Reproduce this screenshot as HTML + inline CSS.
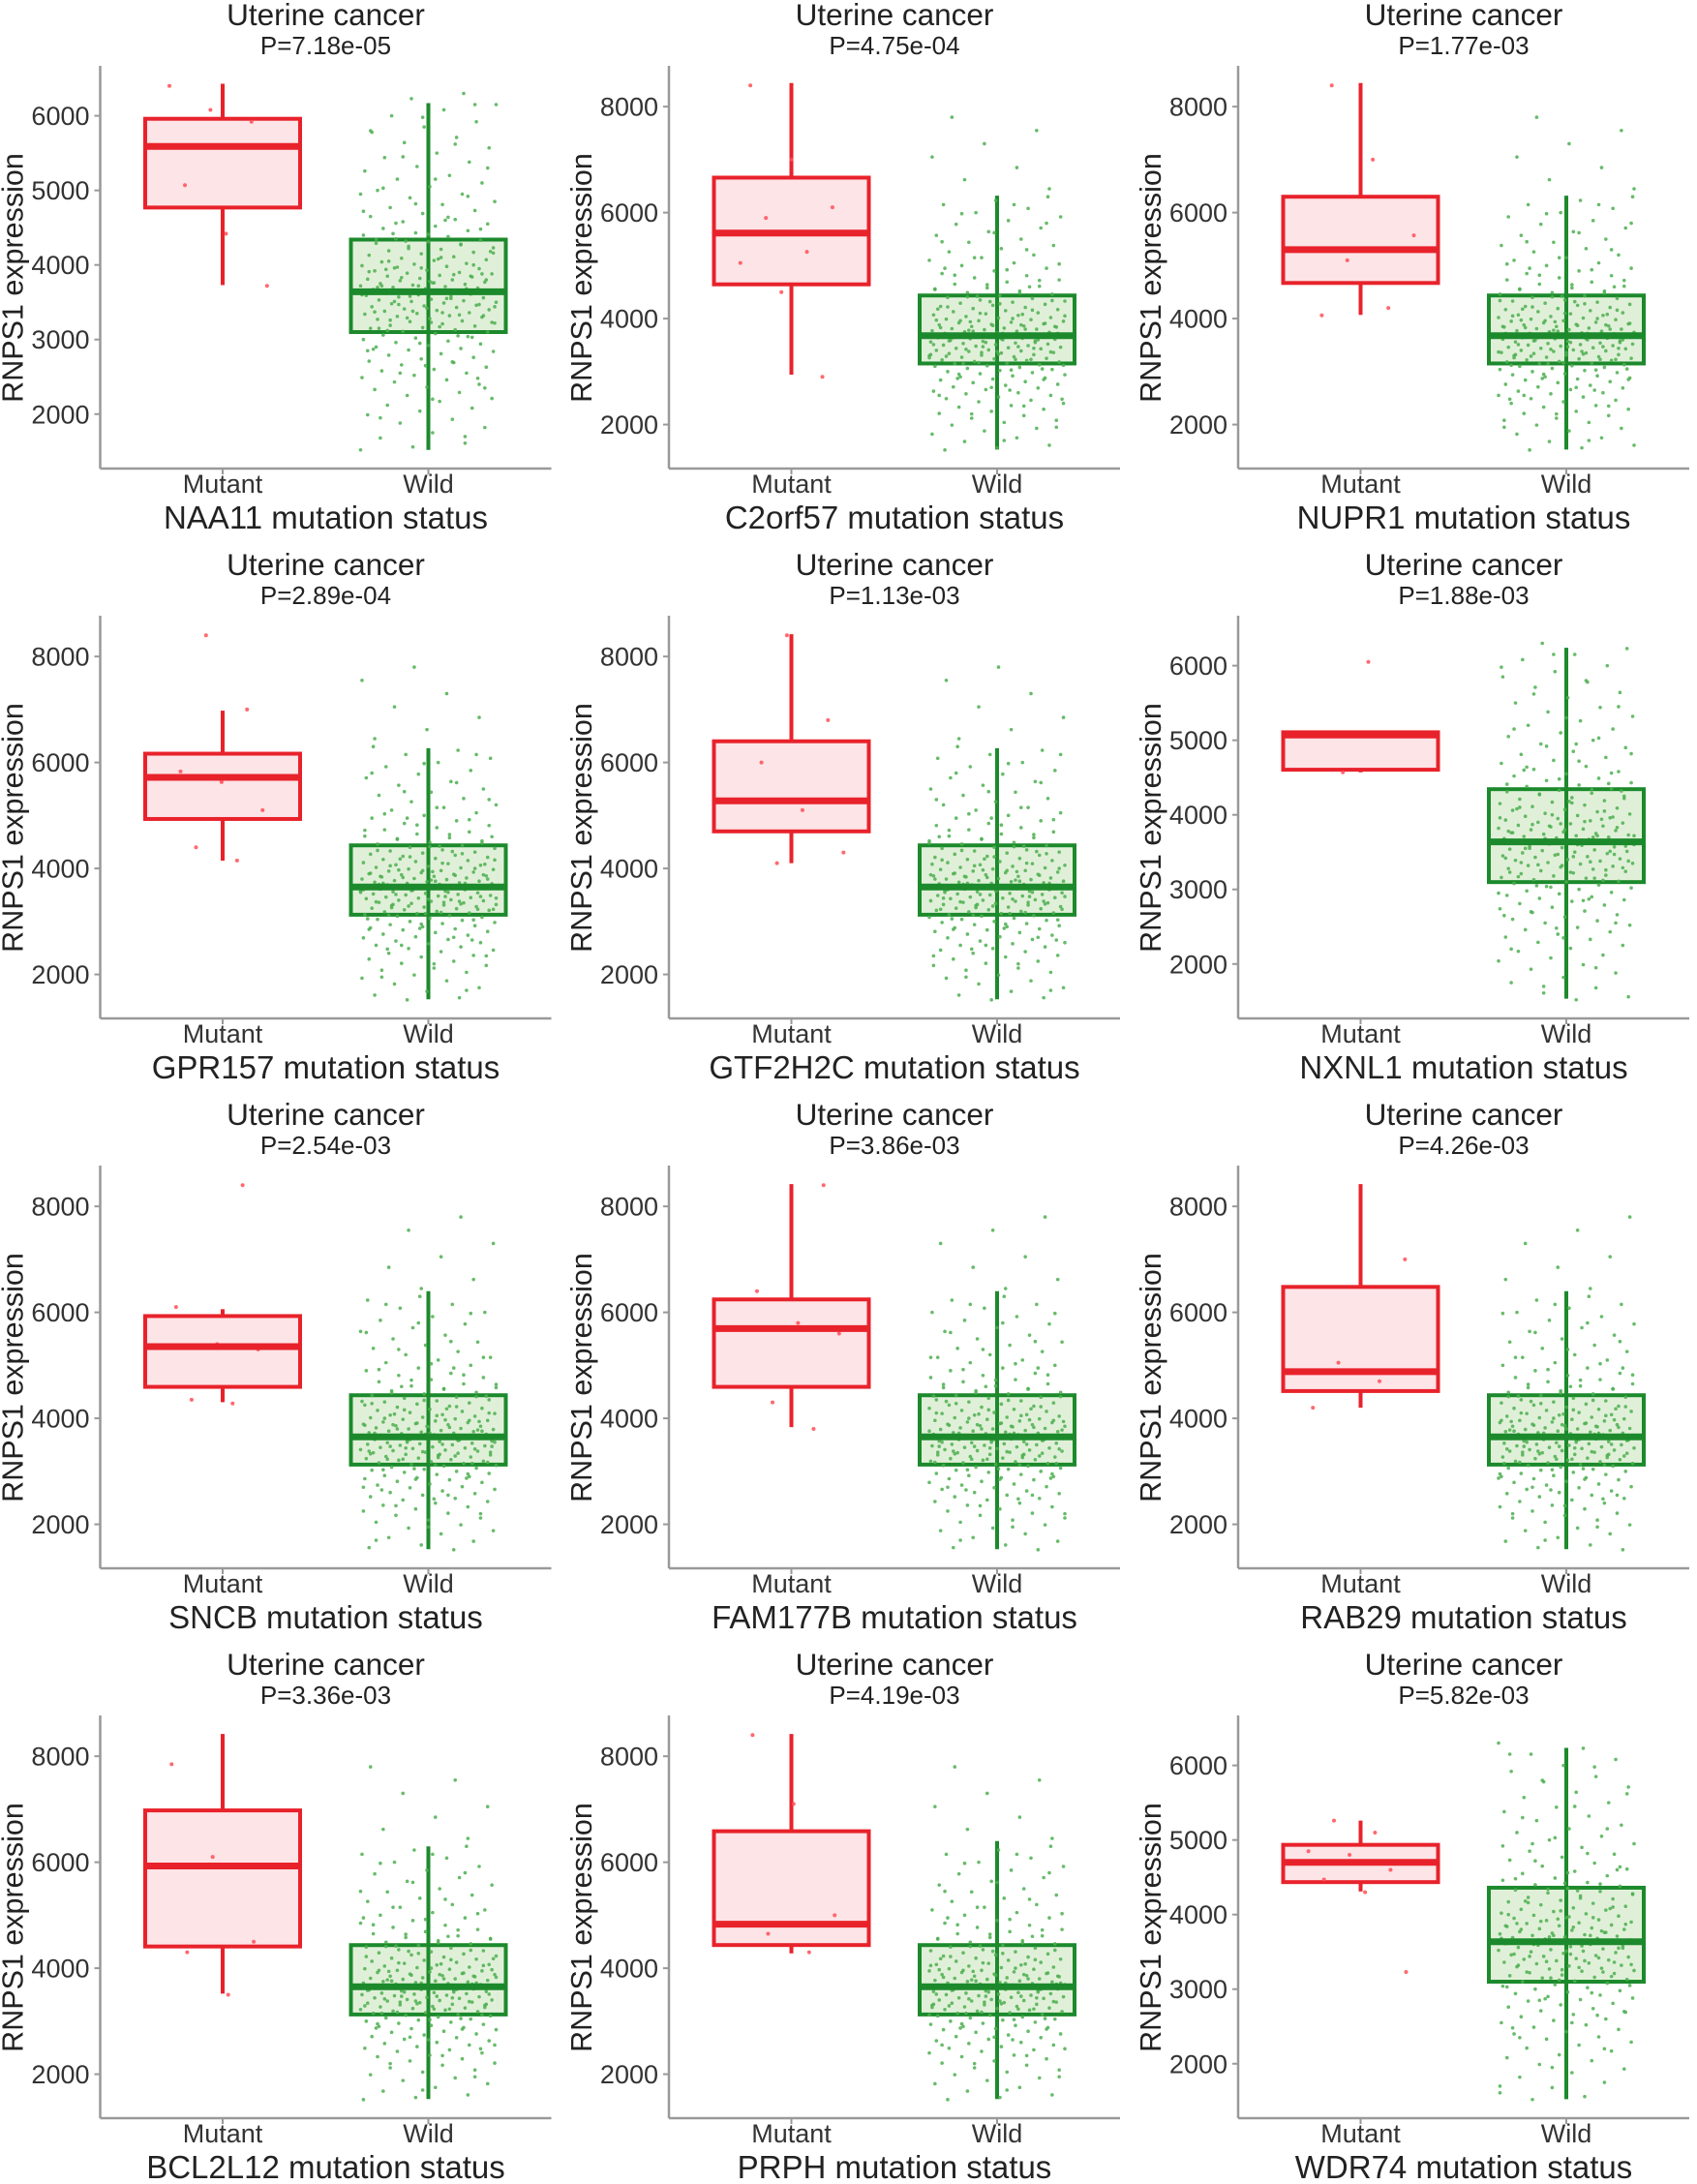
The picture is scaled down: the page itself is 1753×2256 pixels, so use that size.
<!DOCTYPE html>
<html><head><meta charset="utf-8">
<style>
html,body{margin:0;padding:0;background:#fff;}
svg{display:block;font-family:"Liberation Sans",sans-serif;}
</style></head>
<body>
<svg id="chart" width="1753" height="2256" viewBox="0 0 1753 2256"></svg>
<script>
// ---- data ----
const genes = ["NAA11","C2orf57","NUPR1","GPR157","GTF2H2C","NXNL1","SNCB","FAM177B","RAB29","BCL2L12","PRPH","WDR74"];
const pValues = ["7.18e-05","4.75e-04","1.77e-03","2.89e-04","1.13e-03","1.88e-03","2.54e-03","3.86e-03","4.26e-03","3.36e-03","4.19e-03","5.82e-03"];
const scaleType = [6,8,8,8,8,6,8,8,8,8,8,6];
const ticks6 = [2000,3000,4000,5000,6000];
const ticks8 = [2000,4000,6000,8000];
const domain6 = [1270,6670];
const domain8 = [1170,8770];
const categories = ["Mutant","Wild"];
// mutant box stats: [low, q1, median, q3, high]
const mutantStats = [
 [3730,4770,5590,5960,6430],
 [2943,4646,5615,6660,8445],
 [4070,4672,5300,6300,8445],
 [4148,4934,5720,6166,6978],
 [4100,4700,5275,6400,8420],
 [4570,4605,5070,5107,5107],
 [4305,4594,5353,5930,6060],
 [3834,4594,5694,6244,8420],
 [4200,4515,4880,6480,8420],
 [3520,4410,5930,6978,8420],
 [4280,4437,4830,6585,8420],
 [4310,4435,4700,4935,5260]
];
const wildStats = [
 [1520,3100,3640,4340,6170],
 [1528,3153,3677,4436,6320],
 [1528,3153,3677,4436,6320],
 [1530,3127,3650,4436,6270],
 [1530,3127,3650,4436,6270],
 [1535,3098,3637,4344,6240],
 [1530,3127,3650,4436,6400],
 [1530,3127,3650,4436,6400],
 [1530,3127,3650,4436,6400],
 [1530,3127,3650,4436,6300],
 [1530,3127,3650,4436,6400],
 [1525,3100,3635,4360,6235]
];
const mutantPoints = [
 [6400,6080,5920,5070,4420,3720],
 [8400,7000,6100,5900,5260,5050,4500,2900],
 [8400,7000,5570,5100,4200,4060],
 [8400,7000,5830,5630,5100,4400,4150],
 [8400,6800,6000,5100,4300,4100],
 [6050,5070,4570],
 [8400,6100,5400,5300,4350,4280],
 [8400,6400,5800,5600,4300,3800],
 [7000,5050,4700,4200],
 [7850,6100,4500,4300,3500],
 [8400,7100,5000,4650,4300],
 [5260,5100,4850,4800,4600,4470,4300,3230]
];
const wildValues = [
 1520,1560,1610,1680,1750,1820,1880,1930,1990,2040,2080,2120,2170,2210,2250,2290,2330,2360,2400,2430,
 2460,2490,2520,2550,2580,2600,2630,2660,2690,2710,2740,2760,2790,2810,2840,2860,2880,2900,2920,2940,
 2960,2980,3000,3020,3040,3060,3080,3100,3110,3130,3150,3160,3180,3190,3210,3220,3240,3250,3270,3280,
 3300,3310,3320,3340,3350,3360,3380,3390,3400,3410,3430,3440,3450,3460,3480,3490,3500,3510,3520,3530,
 3540,3560,3570,3580,3590,3600,3610,3620,3630,3640,3650,3660,3670,3680,3690,3700,3710,3720,3730,3740,
 3750,3760,3770,3790,3800,3810,3820,3840,3850,3860,3880,3890,3900,3920,3930,3950,3960,3980,3990,4010,
 4020,4040,4060,4070,4090,4110,4130,4150,4170,4190,4210,4230,4250,4270,4290,4310,4330,4350,4380,4400,
 4430,4460,4490,4520,4550,4580,4610,4650,4690,4730,4770,4810,4850,4900,4950,5000,5050,5100,5150,5200,
 5260,5320,5380,5440,5500,5570,5640,5710,5780,5850,5920,6000,6080,6150,6230,6300,
 3150,3230,3320,3470,3550,3660,3720,3850,3940,4080,4180,4320,3050,2870,2650,2480,4420,4600,4950,3380,
 6450,6620,6850,7050,7300,7550,7800,
 1700,1950,2200,2350,2550,2700,2850,2950,3030,3120,3170,3230,3290,3330,3370,3420,3470,3510,3550,3600,
 3640,3680,3720,3760,3800,3830,3870,3910,3960,4000,4050,4100,4160,4220,4280,4340,4410,4480,4560,4640,
 4720,4820,4920,5030,5150,5300,5450,5620,5800,5980,6150,3260,3360,3440,3580,3620,3700,3780,3880,3970
];
// ---- drawing ----
const svg = document.getElementById('chart');
const NS = 'http://www.w3.org/2000/svg';
function mk(tag, attrs, parent){
  const e = document.createElementNS(NS, tag);
  for (const k in attrs) e.setAttribute(k, attrs[k]);
  (parent||svg).appendChild(e);
  return e;
}
const colX = [103.5, 691, 1279];
const rowH = 568;
const red = '#e8222b', redFill = '#fde4e7', green = '#1c8a2c', greenFill = '#e0f0d8', dotG = '#4caf50';
genes.forEach((gene, idx) => {
  const r = Math.floor(idx/3), c = idx%3;
  const x0 = colX[c], base = r*rowH;
  const yTop = base+68, yBot = base+484;
  const dom = scaleType[idx]===6 ? domain6 : domain8;
  const ticks = scaleType[idx]===6 ? ticks6 : ticks8;
  const yS = v => yBot - (v-dom[0])/(dom[1]-dom[0])*(yBot-yTop);
  const xCat = [x0+126.5, x0+339];
  const g = mk('g', {});
  
  
  const cx = x0+233;
  let t = mk('text', {x:cx, y:base+26, 'text-anchor':'middle', 'font-size':31.5, fill:'#222'}, g);
  t.textContent = 'Uterine cancer';
  
  
  t = mk('text', {x:cx, y:base+56, 'text-anchor':'middle', 'font-size':26, fill:'#222'}, g);
  t.textContent = 'P='+pValues[idx];
  
  
  // axes
  let a = mk('line', {x1:x0, y1:yTop, x2:x0, y2:yBot, stroke:'#999', 'stroke-width':2.5}, g);
  
  
  a = mk('line', {x1:x0, y1:yBot, x2:x0+466, y2:yBot, stroke:'#999', 'stroke-width':2.5}, g);
  
  
  ticks.forEach(v => {
    mk('line', {x1:x0-6, y1:yS(v), x2:x0, y2:yS(v), stroke:'#999', 'stroke-width':2}, g);
    const tl = mk('text', {x:x0-11, y:yS(v)+9.5, 'text-anchor':'end', 'font-size':27, fill:'#333'}, g);
    tl.textContent = v;
    
    
  });
  categories.forEach((cat, ci) => {
    mk('line', {x1:xCat[ci], y1:yBot, x2:xCat[ci], y2:yBot+6, stroke:'#999', 'stroke-width':2}, g);
    const tl = mk('text', {x:xCat[ci], y:yBot+25, 'text-anchor':'middle', 'font-size':27, fill:'#333'}, g);
    tl.textContent = cat;
    
    
  });
  t = mk('text', {x:cx, y:base+546, 'text-anchor':'middle', 'font-size':33, fill:'#222'}, g);
  t.textContent = gene+' mutation status';
  
  
  const ym = (yTop+yBot)/2 + 11, xt = x0-80;
  t = mk('text', {x:xt, y:ym, 'text-anchor':'middle', 'font-size':30.5, fill:'#222', transform:`rotate(-90 ${xt} ${ym})`}, g);
  t.textContent = 'RNPS1 expression';
  
  
  // boxes
  const hw = 80;
  [mutantStats[idx], wildStats[idx]].forEach((s, ci) => {
    const col = ci===0 ? red : green, fill = ci===0 ? redFill : greenFill;
    const x = xCat[ci];
    const bx = mk('g', {}, g);
    
    
    mk('rect', {x:x-hw, y:yS(s[3]), width:2*hw, height:yS(s[1])-yS(s[3]), fill:fill, stroke:col, 'stroke-width':4}, bx);
    if (ci===1) {
      mk('line', {x1:x, y1:yS(s[4]), x2:x, y2:yS(s[0]), stroke:col, 'stroke-width':4}, bx);
    } else {
      mk('line', {x1:x, y1:yS(s[4]), x2:x, y2:yS(s[3]), stroke:col, 'stroke-width':4}, bx);
      mk('line', {x1:x, y1:yS(s[1]), x2:x, y2:yS(s[0]), stroke:col, 'stroke-width':4}, bx);
    }
    // points
    const pts = ci===0 ? mutantPoints[idx] : wildValues.filter(v => scaleType[idx]===8 || v<=6400);
    const spread = ci===0 ? 110 : 140;
    pts.forEach((v, i) => {
      const j = (((i*37 + idx*11) % 97)/96 - 0.5) * spread;
      mk('circle', {cx:x+j, cy:yS(v), r:ci===0?2:1.8, fill:ci===0?'#ff4d55':dotG, opacity:0.85}, bx);
    });
    mk('line', {x1:x-hw, y1:yS(s[2]), x2:x+hw, y2:yS(s[2]), stroke:col, 'stroke-width':7}, bx);
  });
});
</script>
</body></html>
